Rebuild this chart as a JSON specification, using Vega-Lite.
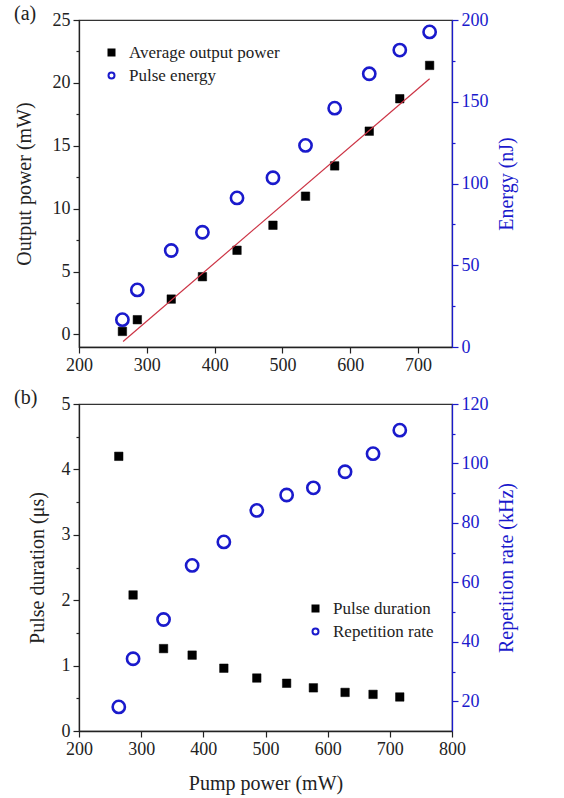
{
  "$schema": "https://vega.github.io/schema/vega-lite/v6.json",
  "padding": {"left": 13, "top": 3, "right": 5, "bottom": 5},
  "background": "white",
  "datasets": {
    "a": [
      {"p": 264, "s": "Average output power", "v": 0.24},
      {"p": 286, "s": "Average output power", "v": 1.17},
      {"p": 336, "s": "Average output power", "v": 2.81},
      {"p": 382, "s": "Average output power", "v": 4.59},
      {"p": 433, "s": "Average output power", "v": 6.69},
      {"p": 486, "s": "Average output power", "v": 8.68},
      {"p": 534, "s": "Average output power", "v": 10.99},
      {"p": 577, "s": "Average output power", "v": 13.4},
      {"p": 628, "s": "Average output power", "v": 16.16},
      {"p": 673, "s": "Average output power", "v": 18.74},
      {"p": 717, "s": "Average output power", "v": 21.39},
      {"p": 264, "s": "Pulse energy", "v": 16.7},
      {"p": 286, "s": "Pulse energy", "v": 34.9},
      {"p": 336, "s": "Pulse energy", "v": 59.0},
      {"p": 382, "s": "Pulse energy", "v": 70.2},
      {"p": 433, "s": "Pulse energy", "v": 91.2},
      {"p": 486, "s": "Pulse energy", "v": 103.5},
      {"p": 534, "s": "Pulse energy", "v": 123.3},
      {"p": 577, "s": "Pulse energy", "v": 146.1},
      {"p": 628, "s": "Pulse energy", "v": 167.1},
      {"p": 673, "s": "Pulse energy", "v": 181.6},
      {"p": 717, "s": "Pulse energy", "v": 192.7}
    ],
    "fit": [
      {"p": 265, "v": -0.56},
      {"p": 717, "v": 20.33}
    ],
    "b": [
      {"p": 264, "s": "Pulse duration", "v": 4.2},
      {"p": 287, "s": "Pulse duration", "v": 2.08},
      {"p": 336, "s": "Pulse duration", "v": 1.26},
      {"p": 382, "s": "Pulse duration", "v": 1.16},
      {"p": 433, "s": "Pulse duration", "v": 0.96},
      {"p": 486, "s": "Pulse duration", "v": 0.81},
      {"p": 534, "s": "Pulse duration", "v": 0.73},
      {"p": 577, "s": "Pulse duration", "v": 0.66},
      {"p": 628, "s": "Pulse duration", "v": 0.59},
      {"p": 673, "s": "Pulse duration", "v": 0.56},
      {"p": 716, "s": "Pulse duration", "v": 0.52},
      {"p": 264, "s": "Repetition rate", "v": 18.1},
      {"p": 287, "s": "Repetition rate", "v": 34.3},
      {"p": 336, "s": "Repetition rate", "v": 47.5},
      {"p": 382, "s": "Repetition rate", "v": 65.7},
      {"p": 433, "s": "Repetition rate", "v": 73.6},
      {"p": 486, "s": "Repetition rate", "v": 84.2},
      {"p": 534, "s": "Repetition rate", "v": 89.4},
      {"p": 577, "s": "Repetition rate", "v": 91.8},
      {"p": 628, "s": "Repetition rate", "v": 97.2},
      {"p": 673, "s": "Repetition rate", "v": 103.3},
      {"p": 716, "s": "Repetition rate", "v": 111.2}
    ]
  },
  "config": {
    "font": "Liberation Serif",
    "view": {"stroke": "#333", "strokeWidth": 1.2},
    "axis": {
      "labelFont": "Liberation Serif", "titleFont": "Liberation Serif",
      "labelFontSize": 18, "titleFontSize": 20, "titleFontWeight": "normal",
      "labelColor": "#222", "titleColor": "#222", "domainColor": "#222", "tickColor": "#222",
      "grid": false, "domainWidth": 1.3, "tickWidth": 1.2, "labelOverlap": false, "labelPadding": 3, "labelFlush": false
    },
    "legend": {"labelFont": "Liberation Serif", "labelFontSize": 17, "labelColor": "#222", "symbolStrokeWidth": 2, "symbolOpacity": 1},
    "title": {"font": "Liberation Serif", "fontSize": 20, "fontWeight": "normal", "color": "#222"}
  },
  "spacing": 12,
  "resolve": {"scale": {"fill": "independent", "stroke": "independent", "shape": "independent"}},
  "vconcat": [
    {
      "width": 373, "height": 327,
      "title": {"text": "(a)", "anchor": "start", "frame": "group", "dx": -65, "offset": -13},
      "resolve": {"scale": {"y": "independent"}},
      "layer": [
        {
          "data": {"name": "a"},
          "transform": [{"filter": "datum.s === 'Average output power'"}],
          "mark": {"type": "point", "shape": "square", "filled": true, "size": 72, "strokeWidth": 0.5, "opacity": 1},
          "encoding": {
            "x": {"field": "p", "type": "quantitative", "scale": {"domain": [200, 750], "nice": false},
              "axis": {"title": null, "values": [200,250,300,350,400,450,500,550,600,650,700,750],
                "labelExpr": "datum.value % 100 === 0 ? format(datum.value, 'd') : ''",
                "tickSize": {"condition": {"test": "datum.value % 100 === 0", "value": 6}, "value": 3}}},
            "y": {"field": "v", "type": "quantitative", "scale": {"domain": [-1, 25], "nice": false, "zero": false},
              "axis": {"title": "Output power (mW)", "orient": "left", "values": [0,2.5,5,7.5,10,12.5,15,17.5,20,22.5,25],
                "labelExpr": "datum.value % 5 === 0 ? format(datum.value, 'd') : ''",
                "tickSize": {"condition": {"test": "datum.value % 5 === 0", "value": 6}, "value": 3}, "titlePadding": 18}},
            "fill": {"field": "s", "type": "nominal",
              "scale": {"domain": ["Average output power", "Pulse energy"], "range": ["black", "transparent"]},
              "legend": {"orient": "none", "legendX": 24, "legendY": 24, "title": null, "symbolSize": 36, "rowPadding": 5, "labelOffset": 9, "padding": 0}},
            "stroke": {"field": "s", "type": "nominal",
              "scale": {"domain": ["Average output power", "Pulse energy"], "range": ["black", "#1a1acc"]},
              "legend": {"orient": "none", "legendX": 24, "legendY": 24, "title": null, "symbolSize": 36, "rowPadding": 5, "labelOffset": 9, "padding": 0}},
            "shape": {"field": "s", "type": "nominal",
              "scale": {"domain": ["Average output power", "Pulse energy"], "range": ["square", "circle"]},
              "legend": {"orient": "none", "legendX": 24, "legendY": 24, "title": null, "symbolSize": 36, "rowPadding": 5, "labelOffset": 9, "padding": 0}}
          }
        },
        {
          "data": {"name": "fit"},
          "mark": {"type": "line", "color": "#cc3344", "strokeWidth": 1.2},
          "encoding": {
            "x": {"field": "p", "type": "quantitative", "scale": {"domain": [200, 750], "nice": false}},
            "y": {"field": "v", "type": "quantitative", "scale": {"domain": [-1, 25], "nice": false, "zero": false}, "axis": null}
          }
        },
        {
          "data": {"name": "a"},
          "transform": [{"filter": "datum.s === 'Pulse energy'"}],
          "mark": {"type": "point", "shape": "circle", "filled": true, "size": 150, "strokeWidth": 2.6, "opacity": 1},
          "encoding": {
            "x": {"field": "p", "type": "quantitative", "scale": {"domain": [200, 750], "nice": false}},
            "y": {"field": "v", "type": "quantitative", "scale": {"domain": [0, 200], "nice": false},
              "axis": {"title": "Energy (nJ)", "orient": "right", "values": [0,25,50,75,100,125,150,175,200],
                "labelExpr": "datum.value % 50 === 0 ? format(datum.value, 'd') : ''",
                "tickSize": {"condition": {"test": "datum.value % 50 === 0", "value": 6}, "value": 3},
                "domainColor": "#1a1acc", "tickColor": "#1a1acc", "labelColor": "#1a1acc", "titleColor": "#1a1acc",
                "titleAngle": 270, "titleBaseline": "top", "titlePadding": 8}},
            "fill": {"field": "s", "type": "nominal",
              "scale": {"domain": ["Average output power", "Pulse energy"], "range": ["black", "transparent"]}},
            "stroke": {"field": "s", "type": "nominal",
              "scale": {"domain": ["Average output power", "Pulse energy"], "range": ["black", "#1a1acc"]}},
            "shape": {"field": "s", "type": "nominal",
              "scale": {"domain": ["Average output power", "Pulse energy"], "range": ["square", "circle"]}}
          }
        }
      ]
    },
    {
      "width": 373, "height": 327,
      "title": {"text": "(b)", "anchor": "start", "frame": "group", "dx": -65, "offset": -13},
      "resolve": {"scale": {"y": "independent"}},
      "layer": [
        {
          "data": {"name": "b"},
          "transform": [{"filter": "datum.s === 'Pulse duration'"}],
          "mark": {"type": "point", "shape": "square", "filled": true, "size": 72, "strokeWidth": 0.5, "opacity": 1},
          "encoding": {
            "x": {"field": "p", "type": "quantitative", "scale": {"domain": [200, 800], "nice": false},
              "axis": {"title": "Pump power (mW)", "titlePadding": 15, "values": [200,250,300,350,400,450,500,550,600,650,700,750,800],
                "labelExpr": "datum.value % 100 === 0 ? format(datum.value, 'd') : ''",
                "tickSize": {"condition": {"test": "datum.value % 100 === 0", "value": 6}, "value": 3}}},
            "y": {"field": "v", "type": "quantitative", "scale": {"domain": [0, 5], "nice": false},
              "axis": {"title": "Pulse duration (μs)", "orient": "left", "values": [0,0.5,1,1.5,2,2.5,3,3.5,4,4.5,5],
                "labelExpr": "datum.value % 1 === 0 ? format(datum.value, 'd') : ''",
                "tickSize": {"condition": {"test": "datum.value % 1 === 0", "value": 6}, "value": 3}, "titlePadding": 14}},
            "fill": {"field": "s", "type": "nominal",
              "scale": {"domain": ["Pulse duration", "Repetition rate"], "range": ["black", "transparent"]},
              "legend": {"orient": "none", "legendX": 228, "legendY": 196, "title": null, "symbolSize": 36, "rowPadding": 5, "labelOffset": 9, "padding": 0}},
            "stroke": {"field": "s", "type": "nominal",
              "scale": {"domain": ["Pulse duration", "Repetition rate"], "range": ["black", "#1a1acc"]},
              "legend": {"orient": "none", "legendX": 228, "legendY": 196, "title": null, "symbolSize": 36, "rowPadding": 5, "labelOffset": 9, "padding": 0}},
            "shape": {"field": "s", "type": "nominal",
              "scale": {"domain": ["Pulse duration", "Repetition rate"], "range": ["square", "circle"]},
              "legend": {"orient": "none", "legendX": 228, "legendY": 196, "title": null, "symbolSize": 36, "rowPadding": 5, "labelOffset": 9, "padding": 0}}
          }
        },
        {
          "data": {"name": "b"},
          "transform": [{"filter": "datum.s === 'Repetition rate'"}],
          "mark": {"type": "point", "shape": "circle", "filled": true, "size": 150, "strokeWidth": 2.6, "opacity": 1},
          "encoding": {
            "x": {"field": "p", "type": "quantitative", "scale": {"domain": [200, 800], "nice": false}},
            "y": {"field": "v", "type": "quantitative", "scale": {"domain": [10, 120], "nice": false, "zero": false},
              "axis": {"title": "Repetition rate (kHz)", "orient": "right", "values": [20,30,40,50,60,70,80,90,100,110,120],
                "labelExpr": "datum.value % 20 === 0 ? format(datum.value, 'd') : ''",
                "tickSize": {"condition": {"test": "datum.value % 20 === 0", "value": 6}, "value": 3},
                "domainColor": "#1a1acc", "tickColor": "#1a1acc", "labelColor": "#1a1acc", "titleColor": "#1a1acc",
                "titleAngle": 270, "titleBaseline": "top", "titlePadding": 8}},
            "fill": {"field": "s", "type": "nominal",
              "scale": {"domain": ["Pulse duration", "Repetition rate"], "range": ["black", "transparent"]}},
            "stroke": {"field": "s", "type": "nominal",
              "scale": {"domain": ["Pulse duration", "Repetition rate"], "range": ["black", "#1a1acc"]}},
            "shape": {"field": "s", "type": "nominal",
              "scale": {"domain": ["Pulse duration", "Repetition rate"], "range": ["square", "circle"]}}
          }
        }
      ]
    }
  ]
}
